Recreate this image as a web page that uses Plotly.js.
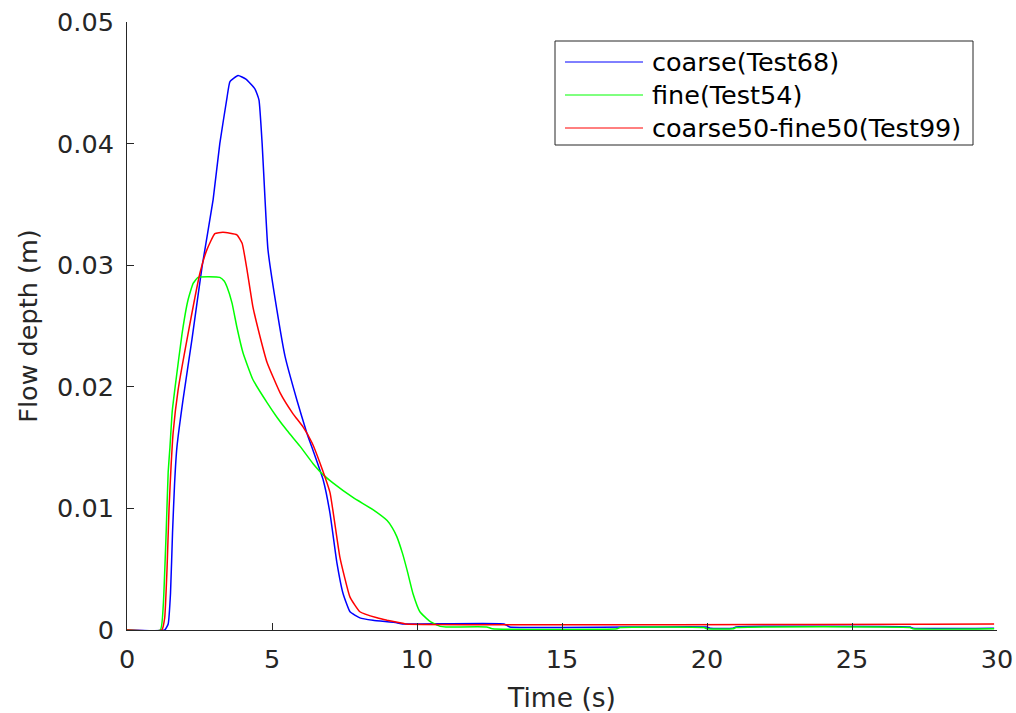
<!DOCTYPE html>
<html>
<head>
<meta charset="utf-8">
<script src="https://cdn.plot.ly/plotly-3.0.1.min.js"></script>
<style>html,body{margin:0;padding:0;background:#fff;}#chart{width:1016px;height:713px;}</style>
</head>
<body>
<div id="chart"></div>
<script>
// ---- data ----
const seriesNames = ["coarse(Test68)", "fine(Test54)", "coarse50-fine50(Test99)"];
const seriesColors = ["#0000ff", "#00ff00", "#ff0000"];

const timeCoarse = [0,1.3,1.42,1.5,1.57,1.64,1.72,1.93,2.24,2.59,2.97,3.2,3.45,3.55,3.83,4.1,4.41,4.55,4.66,4.76,4.86,5.17,5.45,5.86,6.2,6.41,6.77,7.0,7.24,7.45,7.69,8.03,8.48,9.3,9.5,13.0,13.2,20.0,20.1,20.9,21.0,27.0,27.1,29.9];
const depthCoarse = [0,0,0.0005,0.003,0.008,0.012,0.015,0.0189,0.0239,0.0299,0.0354,0.040,0.0438,0.0451,0.0456,0.0453,0.0445,0.0436,0.040,0.0354,0.0313,0.0263,0.0225,0.0189,0.0162,0.0148,0.0123,0.0096,0.0055,0.003,0.0015,0.001,0.0008,0.0006,0.0005,0.0005,0.00025,0.00025,0.00015,0.00015,0.00025,0.00025,0.00015,0.00015];

const timeFine = [0,1.15,1.25,1.35,1.42,1.48,1.56,1.66,1.9,2.1,2.28,2.45,3.2,3.35,3.45,3.62,3.79,4.0,4.34,4.83,5.17,5.52,5.97,6.41,6.75,7.1,7.79,8.48,8.97,9.15,9.3,9.5,9.66,9.86,10.1,10.45,10.8,11.0,12.4,12.6,16.9,17.0,19.9,20.0,20.9,21.0,27.0,27.1,29.9];
const depthFine = [0,0,0.002,0.008,0.013,0.015,0.018,0.020,0.0244,0.0271,0.0285,0.0290,0.0290,0.0287,0.0282,0.0269,0.0249,0.0228,0.0206,0.0187,0.0175,0.0164,0.0151,0.0137,0.0128,0.0121,0.0109,0.0099,0.0090,0.0084,0.0077,0.0063,0.0049,0.0030,0.0015,0.0007,0.0003,0.00025,0.00025,0.0001,0.0001,0.0002,0.0002,0.0001,0.0001,0.0002,0.0002,0.0001,0.0001];

const timeMix = [0,1.2,1.3,1.38,1.45,1.52,1.59,1.76,2.07,2.52,2.76,3.03,3.31,3.79,3.97,4.14,4.34,4.59,4.83,5.28,5.72,6.07,6.38,6.66,7.0,7.34,7.69,8.03,8.62,8.97,9.41,9.6,29.9];
const depthMix = [0,0,0.001,0.005,0.010,0.0135,0.0162,0.0197,0.0239,0.0294,0.0313,0.0326,0.0327,0.0325,0.0318,0.0296,0.0266,0.0241,0.0220,0.0195,0.0178,0.0167,0.0154,0.0137,0.0113,0.0060,0.0027,0.0015,0.0010,0.0008,0.0006,0.0005,0.0005];

const xTickVals = [0,5,10,15,20,25,30];
const yTickVals = [0,0.01,0.02,0.03,0.04,0.05];
const yTickText = ["0","0.01","0.02","0.03","0.04","0.05"];
const xTitle = "Time (s)";
const yTitle = "Flow depth (m)";

// ---- layout geometry ----
const W = 1016, H = 713;
const M = {l:127, r:19, t:22, b:83};
const PW = W - M.l - M.r, PH = H - M.t - M.b;
const px2x = p => (p - M.l) / PW;
const px2y = p => (H - M.b - p) / PH;

const FONT = "DejaVu Sans";
const TXT = "#262626";

const xs = [timeCoarse, timeFine, timeMix];
const ys = [depthCoarse, depthFine, depthMix];
const traces = seriesNames.map((n, i) => ({
  x: xs[i], y: ys[i], type: "scatter", mode: "lines", name: n,
  line: {color: seriesColors[i], width: 1.5, shape: "spline", smoothing: 0.4},
  showlegend: false, hoverinfo: "skip"
}));

// manual MATLAB-style legend
const legBox = {x0: 555, x1: 973, y0: 41, y1: 145};
const rowY = [62, 95, 128];
const shapes = [{
  type: "rect", xref: "paper", yref: "paper",
  x0: px2x(legBox.x0), x1: px2x(legBox.x1), y0: px2y(legBox.y1), y1: px2y(legBox.y0),
  line: {color: "#262626", width: 1}, fillcolor: "#ffffff", layer: "above"
}];
const annotations = [];
seriesNames.forEach((n, i) => {
  shapes.push({type: "line", xref: "paper", yref: "paper",
    x0: px2x(565), x1: px2x(643), y0: px2y(rowY[i]), y1: px2y(rowY[i]),
    line: {color: seriesColors[i], width: 1}, layer: "above"});
  annotations.push({xref: "paper", yref: "paper", x: px2x(650), y: px2y(rowY[i]),
    xanchor: "left", yanchor: "middle", text: n, showarrow: false,
    font: {family: FONT, size: 25.5, color: "#000000"}});
});

const layout = {
  width: W, height: H,
  margin: M,
  paper_bgcolor: "#ffffff", plot_bgcolor: "#ffffff",
  font: {family: FONT, size: 25, color: TXT},
  xaxis: {
    range: [0, 30], tickvals: xTickVals, ticks: "inside", ticklen: 7, tickwidth: 1,
    tickcolor: TXT, showline: true, linecolor: TXT, linewidth: 1, mirror: false,
    showgrid: false, zeroline: false, tickfont: {family: FONT, size: 25.5, color: TXT},
    ticklabelstandoff: 6,
    title: {text: xTitle, font: {family: FONT, size: 26.5, color: TXT}, standoff: 16},
    automargin: false, fixedrange: true
  },
  yaxis: {
    range: [0, 0.05], tickvals: yTickVals, ticktext: yTickText, ticks: "inside", ticklen: 7, tickwidth: 1,
    tickcolor: TXT, showline: true, linecolor: TXT, linewidth: 1, mirror: false,
    showgrid: false, zeroline: false, tickfont: {family: FONT, size: 25.5, color: TXT},
    ticklabelstandoff: 7,
    title: {text: yTitle, font: {family: FONT, size: 25.5, color: TXT}, standoff: 12},
    automargin: false, fixedrange: true
  },
  shapes: shapes,
  annotations: annotations
};

Plotly.newPlot("chart", traces, layout, {displayModeBar: false, staticPlot: true});
</script>
</body>
</html>
